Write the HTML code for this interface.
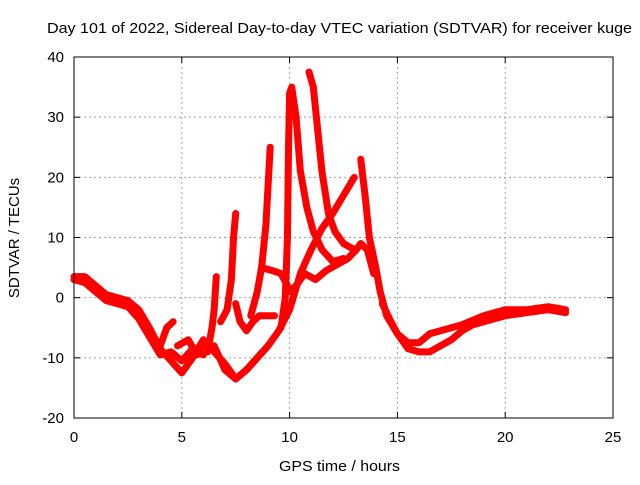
<!DOCTYPE html>
<html><head><meta charset="utf-8"><style>
body{margin:0;background:#fff}
text{font-family:"Liberation Sans",sans-serif;font-size:15px;fill:#000}
</style></head><body>
<svg id="chart" width="640" height="480">
<rect x="0" y="0" width="640" height="480" fill="#fff"/>
<text x="47" y="33" textLength="585" lengthAdjust="spacingAndGlyphs">Day 101 of 2022, Sidereal Day-to-day VTEC variation (SDTVAR) for receiver kuge</text>
<g id="grid"></g><g id="series"></g><g id="axes"></g>
<text x="279" y="471" textLength="121" lengthAdjust="spacingAndGlyphs">GPS time / hours</text>
<text transform="translate(19,238) rotate(-90)" text-anchor="middle">SDTVAR / TECUs</text>
</svg>
<script>
const xTicks=[0,5,10,15,20,25];
const yTicks=[-20,-10,0,10,20,30,40];
const seriesA=[[0,3.5],[0.5,3.5],[1,2],[1.5,0.5],[2,0],[2.5,-0.5],[3,-2],[3.5,-5],[4,-8.5],[4.5,-10.5],[5,-12.5],[5.5,-10],[6,-7],[6.5,-9],[7,-11],[7.5,-13.5],[8,-12],[8.5,-10],[9,-8],[9.5,-5.5],[10,-2],[10.5,4],[11,8],[11.5,11.5],[12,14],[12.5,17],[13,20]];
const seriesB=[[0,3],[0.5,2.5],[1,1],[1.5,-0.5],[2,-1],[2.5,-1.5],[3,-3.5],[3.5,-6.5],[4,-9.5],[4.5,-9],[5,-10.5],[5.5,-8.5],[6,-9.5]];
const seriesC=[[4,-8],[4.3,-5],[4.6,-4]];
const seriesD=[[4.8,-8],[5.3,-7],[5.7,-9.5],[6,-8]];
const seriesE=[[6.2,-9],[6.4,-5],[6.5,-2],[6.6,3.5]];
const seriesF=[[6.5,-8],[7,-12],[7.5,-13.5],[8,-12],[8.5,-10],[9,-8]];
const seriesG=[[6.8,-4],[7.1,-2],[7.3,3],[7.4,10],[7.5,14]];
const seriesH=[[7.5,-1],[7.7,-4],[8,-5.5],[8.3,-4],[8.6,-3],[9,-3],[9.3,-3]];
const seriesI=[[8.2,-3],[8.5,1],[8.7,5],[8.9,12],[9.1,25]];
const seriesJ=[[8.7,5],[9.2,4.5],[9.6,4],[9.9,2],[10,1],[10.3,2],[10.7,4],[11.2,3],[11.7,4.5],[12.2,5.5],[12.7,6.5],[13.1,8],[13.3,9],[13.6,8],[13.9,4]];
const seriesK=[[9.6,-5],[9.8,0],[9.9,10],[9.95,25],[10,34],[10.1,35],[10.3,30],[10.5,21],[10.8,15],[11.1,11],[11.5,8],[12,6],[12.5,6.5]];
const seriesL=[[10.9,37.5],[11.1,35],[11.3,28],[11.5,21],[11.8,14],[12.1,11],[12.5,9],[13,8]];
const seriesM=[[13.3,23],[13.5,17],[13.7,10],[14,5],[14.2,1],[14.5,-3],[15,-6],[15.5,-7.5],[16,-7.5],[16.5,-6],[17,-5.5],[18,-4.5],[19,-3],[20,-2],[21,-2],[22,-1.5],[22.8,-2]];
const seriesN=[[14.3,-1],[14.7,-4],[15,-6],[15.5,-8.5],[16,-9],[16.5,-9],[17,-8],[17.5,-7],[18,-5.5],[18.5,-4.5],[19,-4],[20,-3],[21,-2.5],[22,-2],[22.8,-2.5]];
const allSeries=[seriesA,seriesB,seriesC,seriesD,seriesE,seriesF,seriesG,seriesH,seriesI,seriesJ,seriesK,seriesL,seriesM,seriesN];
const L=74,R=613,T=57,B=418;
function sx(v){return L+(v-0)/25*(R-L);}
function sy(v){return B-(v+20)/60*(B-T);}
const NS="http://www.w3.org/2000/svg";
const grid=document.getElementById('grid'),axes=document.getElementById('axes'),ser=document.getElementById('series');
function mk(tag,attrs,parent){const e=document.createElementNS(NS,tag);for(const k in attrs)e.setAttribute(k,attrs[k]);parent.appendChild(e);return e;}
xTicks.forEach(t=>{
 if(t>0&&t<25){const g=mk('line',{x1:sx(t),x2:sx(t),y1:T,y2:B,stroke:'#a0a0a0','stroke-dasharray':'2,3'},grid);
 
 }
 const tx=mk('text',{x:sx(t),y:B+24,'text-anchor':'middle'},axes);tx.textContent=t;
 
 
 mk('line',{x1:sx(t),x2:sx(t),y1:B,y2:B-6,stroke:'#000'},axes);
 mk('line',{x1:sx(t),x2:sx(t),y1:T,y2:T+6,stroke:'#000'},axes);
});
yTicks.forEach(t=>{
 if(t>-20&&t<40){const g=mk('line',{x1:L,x2:R,y1:sy(t),y2:sy(t),stroke:'#a0a0a0','stroke-dasharray':'2,3'},grid);
 
 }
 const tx=mk('text',{x:L-10,y:sy(t)+5,'text-anchor':'end'},axes);tx.textContent=t;
 
 
 mk('line',{x1:L,x2:L+6,y1:sy(t),y2:sy(t),stroke:'#000'},axes);
 mk('line',{x1:R,x2:R-6,y1:sy(t),y2:sy(t),stroke:'#000'},axes);
});
const fr=mk('rect',{x:L,y:T,width:R-L,height:B-T,fill:'none',stroke:'#000'},axes);


allSeries.forEach((s,i)=>{
 const p=mk('polyline',{points:s.map(d=>sx(d[0])+','+sy(d[1])).join(' '),fill:'none',stroke:'#ff0000','stroke-width':7,'stroke-linejoin':'round','stroke-linecap':'round'},ser);
 
 
});
</script>
</body></html>
